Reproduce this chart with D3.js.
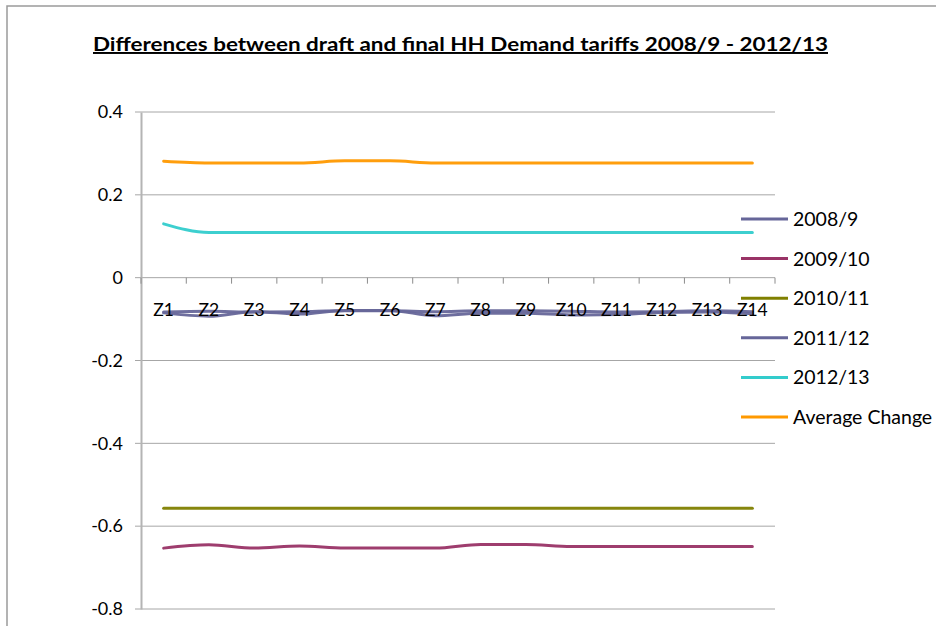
<!DOCTYPE html>
<html><head><meta charset="utf-8">
<script src="https://cdn.jsdelivr.net/npm/d3@7"></script>
<style>body{margin:0;background:#fff}svg{display:block}text{font-family:Lato,"Open Sans",sans-serif}</style>
</head><body>
<svg id="c" width="936" height="626"></svg>
<script>
const categories = ["Z1","Z2","Z3","Z4","Z5","Z6","Z7","Z8","Z9","Z10","Z11","Z12","Z13","Z14"];
const s2008 = [-0.085,-0.093,-0.082,-0.088,-0.079,-0.079,-0.092,-0.086,-0.086,-0.090,-0.089,-0.084,-0.083,-0.087];
const s2009 = [-0.653,-0.645,-0.653,-0.648,-0.653,-0.653,-0.653,-0.644,-0.644,-0.649,-0.649,-0.649,-0.649,-0.649];
const s2010 = [-0.557,-0.557,-0.557,-0.557,-0.557,-0.557,-0.557,-0.557,-0.557,-0.557,-0.557,-0.557,-0.557,-0.557];
const s2011 = [-0.083,-0.081,-0.083,-0.082,-0.080,-0.080,-0.082,-0.080,-0.080,-0.081,-0.083,-0.082,-0.080,-0.082];
const s2012 = [0.130,0.109,0.109,0.109,0.109,0.109,0.109,0.109,0.109,0.109,0.109,0.109,0.109,0.109];
const sAvg  = [0.281,0.277,0.277,0.277,0.282,0.282,0.277,0.277,0.277,0.277,0.277,0.277,0.277,0.277];
const seriesNames = ["2008/9","2009/10","2010/11","2011/12","2012/13","Average Change"];
const seriesColors = ["#666699","#993366","#808000","#666699","#33CCCC","#FF9900"];
const yTicks = [0.4,0.2,0,-0.2,-0.4,-0.6,-0.8];
const yTickLabels = ["0.4","0.2","0","-0.2","-0.4","-0.6","-0.8"];
const title = "Differences between draft and final HH Demand tariffs 2008/9 - 2012/13";

const series = [s2008,s2009,s2010,s2011,s2012,sAvg];
const svg = d3.select("#c");

// outer chart border
svg.append("rect").attr("x",7).attr("y",6).attr("width",1000).attr("height",700)
  .attr("fill","none").attr("stroke","#9a9a9a").attr("stroke-width",1.5);

const L=141, R=775, T=112, B=609;
const x = d3.scaleBand().domain(categories).range([L,R]);
const y = d3.scaleLinear().domain([-0.8,0.4]).range([B,T]);

// gridlines
svg.append("g").selectAll("line").data(yTicks).join("line")
  .attr("x1",L-6).attr("x2",R).attr("y1",d=>y(d)).attr("y2",d=>y(d))
  .attr("stroke","#a6a6a6").attr("stroke-width",1);

// y axis
const ya = svg.append("g").attr("transform",`translate(${L},0)`)
  .call(d3.axisLeft(y).tickValues(yTicks).tickSize(0).tickPadding(18).tickFormat((d,i)=>yTickLabels[i]));
ya.select(".domain").attr("stroke","#b4b4b4").attr("stroke-width",2);
ya.selectAll("text").attr("font-size",18).attr("fill","#000").style("font-family","Lato");

// boundary ticks
const bounds = categories.map(c=>x(c)).concat([R]);
svg.append("g").selectAll("line").data(bounds).join("line")
  .attr("x1",d=>d).attr("x2",d=>d).attr("y1",y(0)).attr("y2",y(0)+6)
  .attr("stroke","#8c8c8c").attr("stroke-width",1);

// lines
const line = d3.line().x((d,i)=>x(categories[i])+x.bandwidth()/2).y(d=>y(d)).curve(d3.curveMonotoneX);
series.forEach((s,i)=>{
  svg.append("path").attr("d",line(s)).attr("fill","none")
    .attr("stroke",seriesColors[i]).attr("stroke-width",3).attr("stroke-linecap","round").attr("opacity",0.95);
});

// x axis labels at zero (drawn over the lines)
const xa = svg.append("g").attr("transform",`translate(0,${y(0)})`)
  .call(d3.axisBottom(x).tickSize(0).tickPadding(26));
xa.select(".domain").remove();
xa.selectAll("text").attr("font-size",17.5).attr("fill","#000").style("font-family","Lato");

// legend
const lg = svg.append("g");
seriesNames.forEach((n,i)=>{
  const yy = 219 + i*39.6;
  lg.append("line").attr("x1",741).attr("x2",788).attr("y1",yy).attr("y2",yy)
    .attr("stroke",seriesColors[i]).attr("stroke-width",3);
  lg.append("text").attr("x",793).attr("y",yy).attr("dy","0.36em").attr("font-size",19.5).text(n);
});

// title
svg.append("text").attr("x",93).attr("y",51).attr("font-size",19.5).attr("font-weight","bold")
  .attr("text-decoration","underline").attr("textLength",735).attr("lengthAdjust","spacingAndGlyphs").text(title);
</script>
</body></html>
